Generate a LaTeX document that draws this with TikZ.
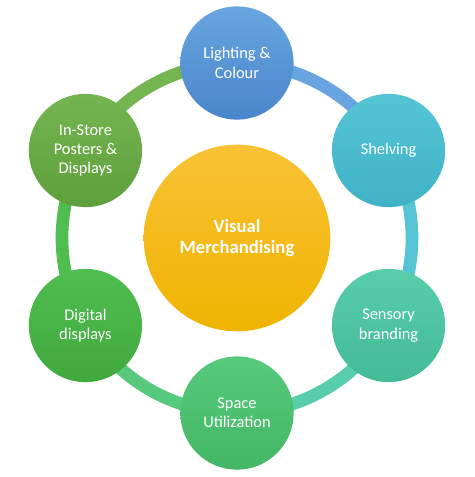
\documentclass[tikz,border=0pt]{standalone}
\usepackage{fontspec}
\setmainfont{Carlito}
\usetikzlibrary{backgrounds}

\definecolor{c1}{HTML}{68A5E0}\definecolor{c1d}{HTML}{4A86CB}
\definecolor{c2}{HTML}{55C5D5}\definecolor{c2d}{HTML}{40B2C6}
\definecolor{c3}{HTML}{58CDAB}\definecolor{c3d}{HTML}{43BB95}
\definecolor{c4}{HTML}{56C97C}\definecolor{c4d}{HTML}{44B765}
\definecolor{c5}{HTML}{50BD50}\definecolor{c5d}{HTML}{40A93D}
\definecolor{c6}{HTML}{74B551}\definecolor{c6d}{HTML}{5E9F3B}
\definecolor{hubtop}{HTML}{F9C235}\definecolor{hubbot}{HTML}{EFB400}

\begin{document}
\begin{tikzpicture}[x=0.75pt,y=0.75pt,
  bub/.style={circle, minimum size=85pt, inner sep=0pt, align=center, text=white,
    font=\fontsize{12.3}{14.6}\selectfont},
  hub/.style={bub, minimum size=140pt, font=\bfseries\fontsize{14}{15.5}\selectfont},
  ring/.style={line width=9.5pt}]
\useasboundingbox (-237,-239) rectangle (237,238);

\node[hub, top color=hubtop, bottom color=hubbot] (vm) at (0,0) {Visual\\Merchandising};

\foreach \a/\n/\txt in {90/1/{Lighting \&\\Colour}, 30/2/{Shelving},
    -30/3/{Sensory\\branding}, -90/4/{Space\\Utilization},
    -150/5/{Digital\\displays}, 150/6/{In-Store\\Posters \&\\Displays}}
  \node[bub, top color=c\n, bottom color=c\n d] (\n) at (\a:175) {\txt};

% ring behind the bubbles
\begin{scope}[on background layer]
\foreach \n/\a in {1/90, 2/30, 3/-30, 4/-90, 5/-150, 6/150}
  \draw[ring, c\n] (\n.center) arc[start angle=\a, delta angle=-60, radius=175];
\end{scope}
\end{tikzpicture}
\end{document}
